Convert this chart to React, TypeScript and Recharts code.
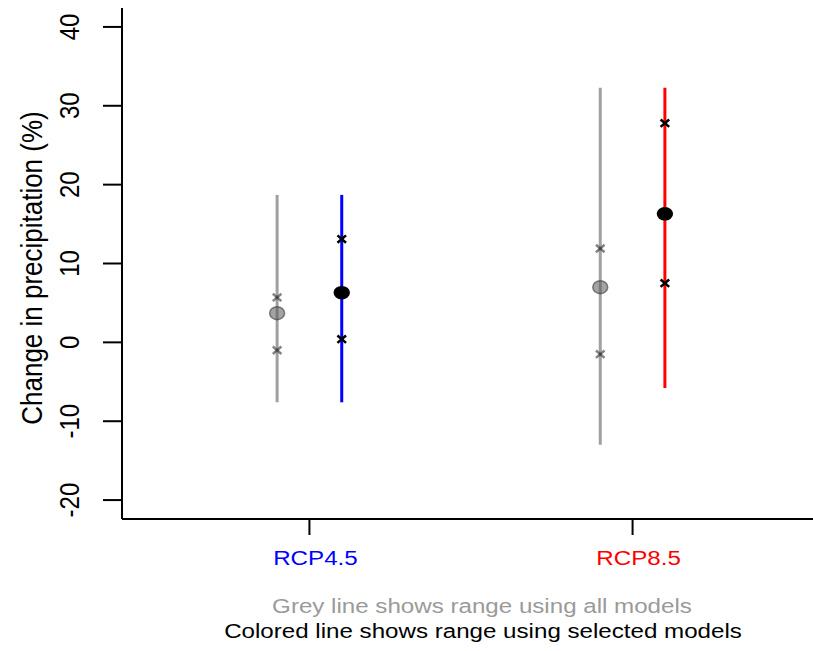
import { ComposedChart, Scatter, XAxis, YAxis } from 'recharts';

const categories = ['RCP4.5', 'RCP8.5'];
const categoryColors = ['#0000FF', '#FF0000'];

// all models (grey)
const allMin = [-7.6, -13.0];
const allMax = [18.7, 32.3];
const allLow = [-1.0, -1.5];
const allHigh = [5.7, 11.9];
const allMean = [3.7, 7.0];

// selected models (colored)
const selMin = [-7.6, -5.8];
const selMax = [18.7, 32.3];
const selLow = [0.4, 7.5];
const selHigh = [13.1, 27.8];
const selMean = [6.3, 16.3];

const yTicks = [-20, -10, 0, 10, 20, 30, 40];
const xTicks = [1, 2];

const FONT = '"Liberation Sans", Arial, sans-serif';
const STRETCH = 1.15;
const GAP = 0.1;

const greyX = (i: number) => xTicks[i] - GAP;
const selX = (i: number) => xTicks[i] + GAP;

const greyRanges = categories.map((_, i) => [
  { x: greyX(i), y: allMin[i] },
  { x: greyX(i), y: allMax[i] },
]);
const selRanges = categories.map((_, i) => [
  { x: selX(i), y: selMin[i] },
  { x: selX(i), y: selMax[i] },
]);
const greyCrosses = categories.flatMap((_, i) => [
  { x: greyX(i), y: allLow[i] },
  { x: greyX(i), y: allHigh[i] },
]);
const selCrosses = categories.flatMap((_, i) => [
  { x: selX(i), y: selLow[i] },
  { x: selX(i), y: selHigh[i] },
]);
const greyMeans = categories.map((_, i) => ({ x: greyX(i), y: allMean[i] }));
const selMeans = categories.map((_, i) => ({ x: selX(i), y: selMean[i] }));

const Empty = () => <g />;

const makeCross = (stroke: string) => (props: any) => {
  const { cx, cy } = props;
  const w = 4.3;
  const h = 3.7;
  return (
    <g stroke={stroke} strokeWidth={2.5}>
      <line x1={cx - w} y1={cy - h} x2={cx + w} y2={cy + h} />
      <line x1={cx - w} y1={cy + h} x2={cx + w} y2={cy - h} />
    </g>
  );
};

const GreyMean = (props: any) => (
  <ellipse cx={props.cx} cy={props.cy} rx={7.5} ry={6.5}
    fill="rgba(90,90,90,0.55)" stroke="rgba(60,60,60,0.6)" strokeWidth={1.5} />
);

const SelMean = (props: any) => (
  <ellipse cx={props.cx} cy={props.cy} rx={8.2} ry={6.8} fill="#000" />
);

const XTick = (props: any) => {
  const { x, payload } = props;
  const i = xTicks.indexOf(payload.value);
  return (
    <text transform={`translate(${x + 6}, 565) scale(${STRETCH}, 1)`} textAnchor="middle"
      fill={categoryColors[i]} fontSize={21} fontFamily={FONT}>
      {categories[i]}
    </text>
  );
};

const YTick = (props: any) => {
  const { y, payload } = props;
  return (
    <text transform={`translate(69, ${y}) rotate(-90) scale(1, ${STRETCH})`} textAnchor="middle"
      dominantBaseline="central" fill="#000" fontSize={24} fontFamily={FONT}>
      {payload.value}
    </text>
  );
};

export default function App() {
  return (
    <div style={{ position: 'absolute', left: 0, top: 0, width: 813, height: 651, overflow: 'hidden', background: '#fff' }}>
      <ComposedChart width={830} height={651} margin={{ top: 8, right: 10, bottom: 0, left: 0 }}>
        <XAxis xAxisId="top" orientation="top" type="number" domain={[0.42, 2.58]} height={0}
          tick={false} tickLine={false} axisLine={{ stroke: '#000', strokeWidth: 2 }} />
        <XAxis type="number" dataKey="x" domain={[0.42, 2.58]} ticks={xTicks} allowDataOverflow
          height={132} tickSize={16} tick={<XTick />}
          axisLine={{ stroke: '#000', strokeWidth: 2 }} tickLine={{ stroke: '#000', strokeWidth: 2 }} />
        <YAxis type="number" dataKey="y" domain={[-22.4, 42.4]} ticks={yTicks} allowDataOverflow
          width={122} tickSize={19} tick={<YTick />}
          axisLine={{ stroke: '#000', strokeWidth: 2 }} tickLine={{ stroke: '#000', strokeWidth: 2 }} />
        {categories.map((c, i) => (
          <Scatter key={'gr' + c} data={greyRanges[i]} line={{ stroke: '#A0A0A0', strokeWidth: 3 }}
            shape={Empty} isAnimationActive={false} />
        ))}
        {categories.map((c, i) => (
          <Scatter key={'sr' + c} data={selRanges[i]} line={{ stroke: categoryColors[i], strokeWidth: 3 }}
            shape={Empty} isAnimationActive={false} />
        ))}
        <Scatter data={greyCrosses} shape={makeCross('rgba(50,50,50,0.6)')} isAnimationActive={false} />
        <Scatter data={greyMeans} shape={GreyMean} isAnimationActive={false} />
        <Scatter data={selCrosses} shape={makeCross('#000')} isAnimationActive={false} />
        <Scatter data={selMeans} shape={SelMean} isAnimationActive={false} />
      </ComposedChart>
      <svg width={813} height={651} style={{ position: 'absolute', left: 0, top: 0, pointerEvents: 'none' }}>
        <text transform={`translate(32, 268) rotate(-90) scale(1, ${STRETCH})`} textAnchor="middle"
          dominantBaseline="central" fontSize={26} fontFamily={FONT} fill="#000">
          Change in precipitation (%)
        </text>
        <text transform={`translate(482, 613) scale(${STRETCH}, 1)`} textAnchor="middle"
          fontSize={21} fontFamily={FONT} fill="#9A9A9A">
          Grey line shows range using all models
        </text>
        <text transform={`translate(483, 638) scale(${STRETCH}, 1)`} textAnchor="middle"
          fontSize={21} fontFamily={FONT} fill="#000">
          Colored line shows range using selected models
        </text>
      </svg>
    </div>
  );
}
